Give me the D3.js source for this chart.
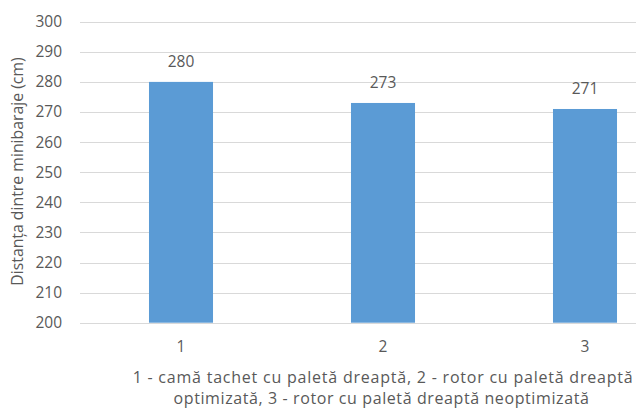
<!DOCTYPE html>
<html>
<head>
<meta charset="utf-8">
<script src="https://cdn.jsdelivr.net/npm/d3@7"></script>
<style>
  html, body { margin: 0; padding: 0; background: #fff; }
  svg { display: block; }
  text { font-family: "Open Sans", "Noto Sans", sans-serif; fill: #595959; }
</style>
</head>
<body>
<script>
// Distanța dintre minibaraje pentru cele trei variante
const categories = ["1", "2", "3"];
const values = [280, 273, 271];
const yTicks = [200, 210, 220, 230, 240, 250, 260, 270, 280, 290, 300];
const yTitle = "Distanța dintre minibaraje (cm)";
const xTitleLines = [
  "1 - camă tachet cu paletă dreaptă, 2 - rotor cu paletă dreaptă",
  "optimizată, 3 - rotor cu paletă dreaptă neoptimizată"
];

const W = 636, H = 409;
const svg = d3.select("body").append("svg").attr("width", W).attr("height", H);

const x = d3.scaleBand().domain(categories).range([80, 686])
  .paddingInner(0.683).paddingOuter(0.3415);
const y = d3.scaleLinear().domain([200, 300]).range([322.7, 21.7]);

// horizontal gridlines
svg.append("g").selectAll("line").data(yTicks).join("line")
  .attr("x1", 80).attr("x2", 686)
  .attr("y1", d => Math.round(y(d)) + 0.5).attr("y2", d => Math.round(y(d)) + 0.5)
  .attr("stroke", "#d9d9d9").attr("stroke-width", 1);

// y axis tick labels
const yAxis = d3.axisLeft(y).tickValues(yTicks).tickSize(0).tickPadding(0);
const gy = svg.append("g").attr("transform", "translate(62,0)").call(yAxis);
gy.select(".domain").remove();
gy.selectAll("text").attr("font-size", "15.5px").attr("fill", "#595959")
  .style("font-family", "'Open Sans', sans-serif");

// bars
svg.append("g").selectAll("rect").data(values).join("rect")
  .attr("x", (d, i) => x(categories[i]))
  .attr("width", x.bandwidth())
  .attr("y", d => y(d))
  .attr("height", d => y(200) - y(d))
  .attr("fill", "#5b9bd5");

// value labels
svg.append("g").selectAll("text").data(values).join("text")
  .attr("x", (d, i) => x(categories[i]) + x.bandwidth() / 2)
  .attr("y", d => y(d) - 15)
  .attr("text-anchor", "middle")
  .attr("font-size", "15.5px")
  .text(d => d);

// x axis category labels
const xAxis = d3.axisBottom(x).tickSize(0).tickPadding(0);
const gx = svg.append("g").attr("transform", "translate(0,341)").call(xAxis);
gx.select(".domain").remove();
gx.selectAll("text").attr("font-size", "15.5px").attr("fill", "#595959")
  .style("font-family", "'Open Sans', sans-serif");

// x axis title (two lines)
const xt = svg.append("text")
  .attr("text-anchor", "middle")
  .attr("font-size", "16px");
const titleSpacing = ["0.78px", "0.6px"];
const titleX = [383, 381.5];
xTitleLines.forEach((line, i) => {
  xt.append("tspan")
    .attr("x", titleX[i])
    .attr("y", 383 + i * 20.5)
    .attr("letter-spacing", titleSpacing[i])
    .text(line);
});

// y axis title
svg.append("text")
  .attr("transform", "translate(23,171.5) rotate(-90)")
  .attr("text-anchor", "middle")
  .attr("font-size", "15.8px")
  .text(yTitle);
</script>
</body>
</html>
